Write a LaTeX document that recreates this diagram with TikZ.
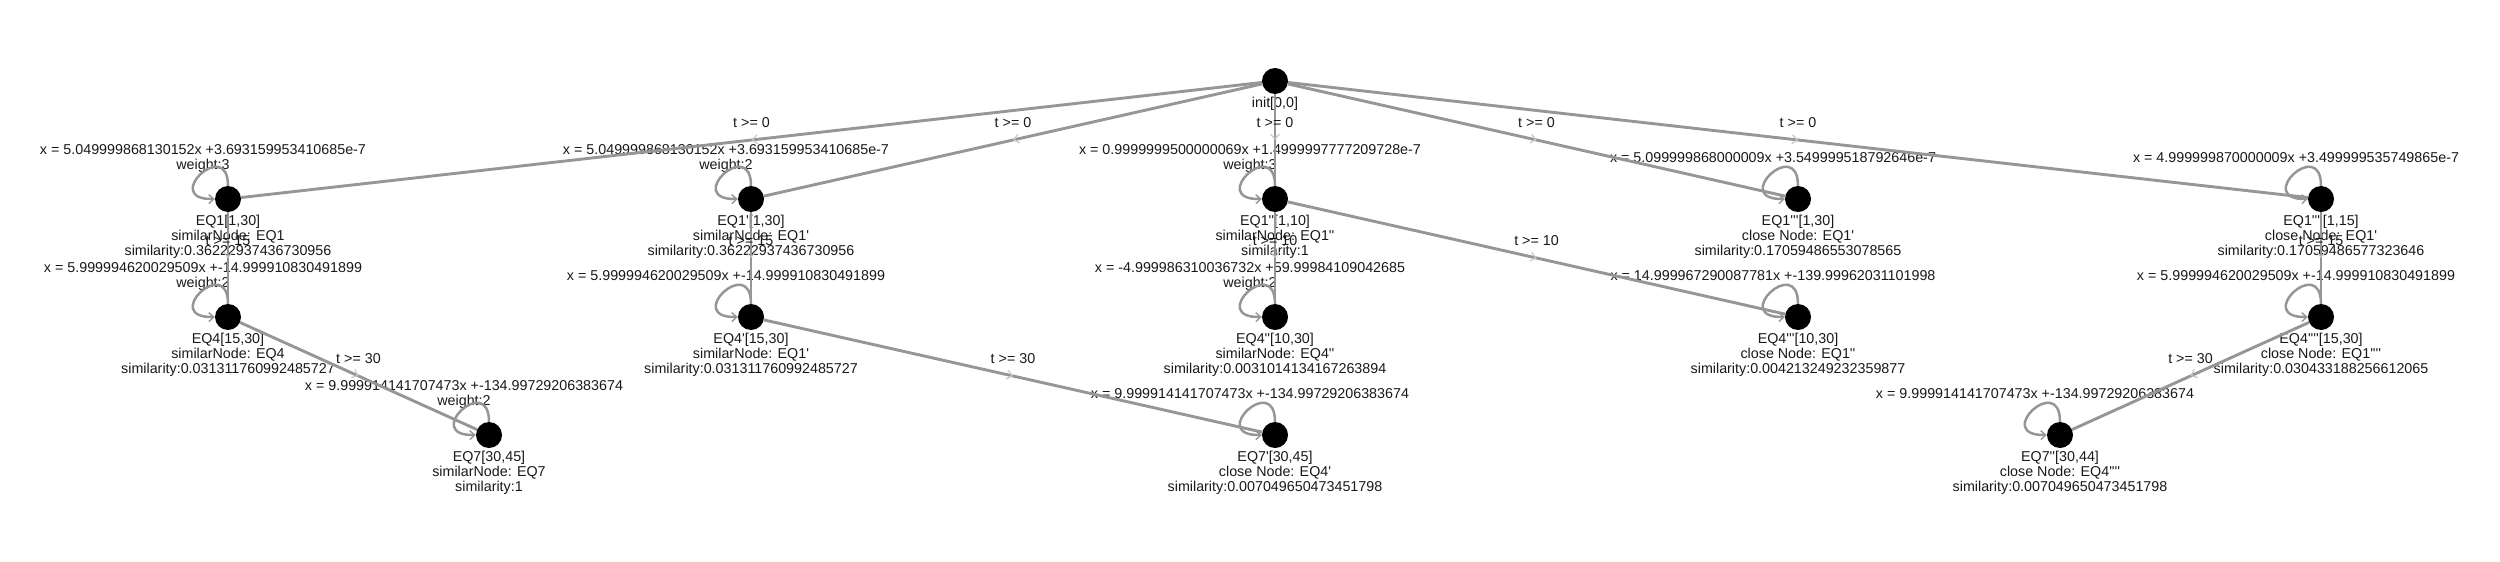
\documentclass[tikz,border=0pt]{standalone}
\usepackage{fontspec}
\newfontfamily\lblfont{Liberation Sans}
\usetikzlibrary{arrows.meta,positioning,decorations.markings}
\definecolor{edgegray}{RGB}{150,150,150}

\begin{document}
\begin{tikzpicture}[x=1pt,y=-1pt]
  \tikzstyle{state}=[circle,fill=black,minimum size=26pt,inner sep=0pt]
  \tikzstyle{txt}=[align=center,inner sep=0pt,text=black!90,font=\lblfont\fontsize{14.3}{15}\selectfont]
  \tikzstyle{trans}=[draw=edgegray,line width=2.9pt,postaction={decorate},decoration={markings,mark=at position 0.5 with {\arrow[black!22]{Straight Barb[length=5pt,width=9pt,line width=1.2pt]}}}]
  \tikzstyle{selfloop}=[draw=edgegray,line width=2.5pt,-{Straight Barb[length=5pt,width=9pt,line width=1.4pt]}]
  \tikzstyle{guard}=[txt,pos=0.5,yshift=17pt]
  \useasboundingbox (0,0) rectangle (2500,562);
  \node[state] (init) at (1275,81) {};
  \node[state] (EQ1) at (228,199) {};
  \node[state] (EQ1p) at (751,199) {};
  \node[state] (EQ1pp) at (1275,199) {};
  \node[state] (EQ1ppp) at (1798,199) {};
  \node[state] (EQ1pppp) at (2321,199) {};
  \node[state] (EQ4) at (228,317) {};
  \node[state] (EQ4p) at (751,317) {};
  \node[state] (EQ4pp) at (1275,317) {};
  \node[state] (EQ4ppp) at (1798,317) {};
  \node[state] (EQ4pppp) at (2321,317) {};
  \node[state] (EQ7) at (489,435) {};
  \node[state] (EQ7p) at (1275,435) {};
  \node[state] (EQ7pp) at (2060,435) {};
  % names under the states
  \node[txt,below=3pt of init] (initt) {init[0,0]};
  \node[txt,below=3pt of EQ1] (EQ1t) {EQ1[1,30]\\similarNode: EQ1\\similarity:0.36222937436730956};
  \node[txt,below=3pt of EQ1p] (EQ1pt) {EQ1'[1,30]\\similarNode: EQ1'\\similarity:0.36222937436730956};
  \node[txt,below=3pt of EQ1pp] (EQ1ppt) {EQ1''[1,10]\\similarNode: EQ1''\\similarity:1};
  \node[txt,below=3pt of EQ1ppp] (EQ1pppt) {EQ1'''[1,30]\\close Node: EQ1'\\similarity:0.17059486553078565};
  \node[txt,below=3pt of EQ1pppp] (EQ1ppppt) {EQ1''''[1,15]\\close Node: EQ1'\\similarity:0.17059486577323646};
  \node[txt,below=3pt of EQ4] (EQ4t) {EQ4[15,30]\\similarNode: EQ4\\similarity:0.031311760992485727};
  \node[txt,below=3pt of EQ4p] (EQ4pt) {EQ4'[15,30]\\similarNode: EQ1'\\similarity:0.031311760992485727};
  \node[txt,below=3pt of EQ4pp] (EQ4ppt) {EQ4''[10,30]\\similarNode: EQ4''\\similarity:0.0031014134167263894};
  \node[txt,below=3pt of EQ4ppp] (EQ4pppt) {EQ4'''[10,30]\\close Node: EQ1''\\similarity:0.004213249232359877};
  \node[txt,below=3pt of EQ4pppp] (EQ4ppppt) {EQ4''''[15,30]\\close Node: EQ1''''\\similarity:0.030433188256612065};
  \node[txt,below=3pt of EQ7] (EQ7t) {EQ7[30,45]\\similarNode: EQ7\\similarity:1};
  \node[txt,below=3pt of EQ7p] (EQ7pt) {EQ7'[30,45]\\close Node: EQ4'\\similarity:0.007049650473451798};
  \node[txt,below=3pt of EQ7pp] (EQ7ppt) {EQ7''[30,44]\\close Node: EQ4''''\\similarity:0.007049650473451798};
  % loop labels
  \node[txt] (EQ1x) at ([xshift=-25pt,yshift=41pt]EQ1) {x = 5.049999868130152x +3.693159953410685e-7\\weight:3};
  \node[txt] (EQ1px) at ([xshift=-25pt,yshift=41pt]EQ1p) {x = 5.049999868130152x +3.693159953410685e-7\\weight:2};
  \node[txt] (EQ1ppx) at ([xshift=-25pt,yshift=41pt]EQ1pp) {x = 0.9999999500000069x +1.4999997777209728e-7\\weight:3};
  \node[txt] (EQ1pppx) at ([xshift=-25pt,yshift=41pt]EQ1ppp) {x = 5.099999868000009x +3.549999518792646e-7};
  \node[txt] (EQ1ppppx) at ([xshift=-25pt,yshift=41pt]EQ1pppp) {x = 4.999999870000009x +3.499999535749865e-7};
  \node[txt] (EQ4x) at ([xshift=-25pt,yshift=41pt]EQ4) {x = 5.999994620029509x +-14.999910830491899\\weight:2};
  \node[txt] (EQ4px) at ([xshift=-25pt,yshift=41pt]EQ4p) {x = 5.999994620029509x +-14.999910830491899};
  \node[txt] (EQ4ppx) at ([xshift=-25pt,yshift=41pt]EQ4pp) {x = -4.999986310036732x +59.99984109042685\\weight:2};
  \node[txt] (EQ4pppx) at ([xshift=-25pt,yshift=41pt]EQ4ppp) {x = 14.999967290087781x +-139.99962031101998};
  \node[txt] (EQ4ppppx) at ([xshift=-25pt,yshift=41pt]EQ4pppp) {x = 5.999994620029509x +-14.999910830491899};
  \node[txt] (EQ7x) at ([xshift=-25pt,yshift=41pt]EQ7) {x = 9.999914141707473x +-134.99729206383674\\weight:2};
  \node[txt] (EQ7px) at ([xshift=-25pt,yshift=41pt]EQ7p) {x = 9.999914141707473x +-134.99729206383674};
  \node[txt] (EQ7ppx) at ([xshift=-25pt,yshift=41pt]EQ7pp) {x = 9.999914141707473x +-134.99729206383674};
  % transitions
  \draw[trans] (init) -- (EQ1) node[guard] {t >= 0};
  \draw[trans] (init) -- (EQ1p) node[guard] {t >= 0};
  \draw[trans] (init) -- (EQ1pp) node[guard] {t >= 0};
  \draw[trans] (init) -- (EQ1ppp) node[guard] {t >= 0};
  \draw[trans] (init) -- (EQ1pppp) node[guard] {t >= 0};
  \draw[trans] (EQ1) -- (EQ4) node[guard] {t >= 15};
  \draw[trans] (EQ1p) -- (EQ4p) node[guard] {t >= 15};
  \draw[trans] (EQ1pp) -- (EQ4pp) node[guard] {t >= 10};
  \draw[trans] (EQ1pp) -- (EQ4ppp) node[guard] {t >= 10};
  \draw[trans] (EQ1pppp) -- (EQ4pppp) node[guard] {t >= 15};
  \draw[trans] (EQ4) -- (EQ7) node[guard] {t >= 30};
  \draw[trans] (EQ4p) -- (EQ7p) node[guard] {t >= 30};
  \draw[trans] (EQ4pppp) -- (EQ7pp) node[guard] {t >= 30};
  % self loops
  \draw[selfloop] (EQ1.north) .. controls +(0,-50) and +(-55,1) .. (EQ1.west);
  \draw[selfloop] (EQ1p.north) .. controls +(0,-50) and +(-55,1) .. (EQ1p.west);
  \draw[selfloop] (EQ1pp.north) .. controls +(0,-50) and +(-55,1) .. (EQ1pp.west);
  \draw[selfloop] (EQ1ppp.north) .. controls +(0,-50) and +(-55,1) .. (EQ1ppp.west);
  \draw[selfloop] (EQ1pppp.north) .. controls +(0,-50) and +(-55,1) .. (EQ1pppp.west);
  \draw[selfloop] (EQ4.north) .. controls +(0,-50) and +(-55,1) .. (EQ4.west);
  \draw[selfloop] (EQ4p.north) .. controls +(0,-50) and +(-55,1) .. (EQ4p.west);
  \draw[selfloop] (EQ4pp.north) .. controls +(0,-50) and +(-55,1) .. (EQ4pp.west);
  \draw[selfloop] (EQ4ppp.north) .. controls +(0,-50) and +(-55,1) .. (EQ4ppp.west);
  \draw[selfloop] (EQ4pppp.north) .. controls +(0,-50) and +(-55,1) .. (EQ4pppp.west);
  \draw[selfloop] (EQ7.north) .. controls +(0,-50) and +(-55,1) .. (EQ7.west);
  \draw[selfloop] (EQ7p.north) .. controls +(0,-50) and +(-55,1) .. (EQ7p.west);
  \draw[selfloop] (EQ7pp.north) .. controls +(0,-50) and +(-55,1) .. (EQ7pp.west);
\end{tikzpicture}
\end{document}
